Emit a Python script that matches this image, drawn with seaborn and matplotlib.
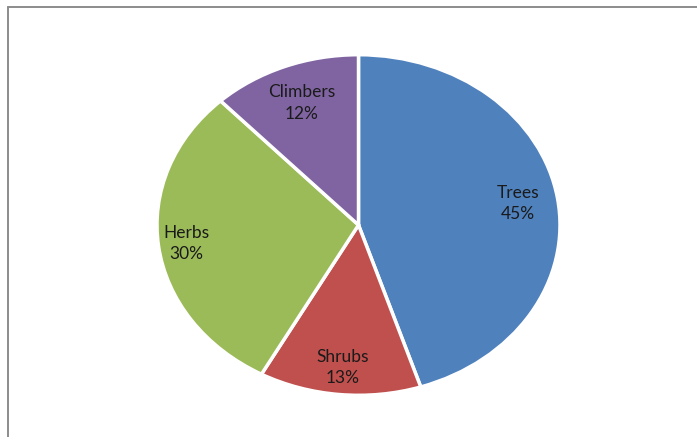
import matplotlib
matplotlib.use("Agg")
import numpy as np
import matplotlib.pyplot as plt
from matplotlib.lines import Line2D
import seaborn as sns

categories = ["Trees", "Shrubs", "Herbs", "Climbers"]
values = [45, 13, 30, 12]
colors = ["#4F81BD", "#C0504D", "#9BBB59", "#8064A2"]
label_dist = [0.80, 0.84, 0.86, 0.77]

sns.set_theme(style="white")
plt.rcParams["font.family"] = ["Lato", "DejaVu Sans"]

W, H = 697, 437
fig = plt.figure(figsize=(W / 100, H / 100), dpi=100)
fig.patch.set_facecolor("white")

# pie box in pixels (left, top, right, bottom)
l, t, r, b = 157, 53, 560, 397
ax = fig.add_axes([l / W, (H - b) / H, (r - l) / W, (b - t) / H])

palette = sns.color_palette(colors)
labels = [f"{c}\n{v}%" for c, v in zip(categories, values)]
wedges, texts = ax.pie(values, labels=labels, colors=palette, startangle=90,
                       counterclock=False, labeldistance=0.8,
                       wedgeprops=dict(edgecolor="white", linewidth=2.5),
                       textprops=dict(fontsize=12.5, color="#1a1a1a"))
for w, tx, d in zip(wedges, texts, label_dist):
    ang = np.deg2rad((w.theta1 + w.theta2) / 2)
    tx.set_position((d * np.cos(ang), d * np.sin(ang)))
    tx.set_ha("center")
    tx.set_va("center")
    tx.set_linespacing(1.4)
ax.set_aspect("auto")
ax.set_xlim(-1.0, 1.0)
ax.set_ylim(-1.01, 1.01)
ax.axis("off")

# frame border (top and left visible)
x0 = 8 / W
y0 = 1 - 7 / H
fig.add_artist(Line2D([x0, x0], [0, y0], transform=fig.transFigure, color="#8c8c8c", lw=1.4))
fig.add_artist(Line2D([x0, 1], [y0, y0], transform=fig.transFigure, color="#8c8c8c", lw=1.4))

fig.savefig("out.png", dpi=100, facecolor="white")
